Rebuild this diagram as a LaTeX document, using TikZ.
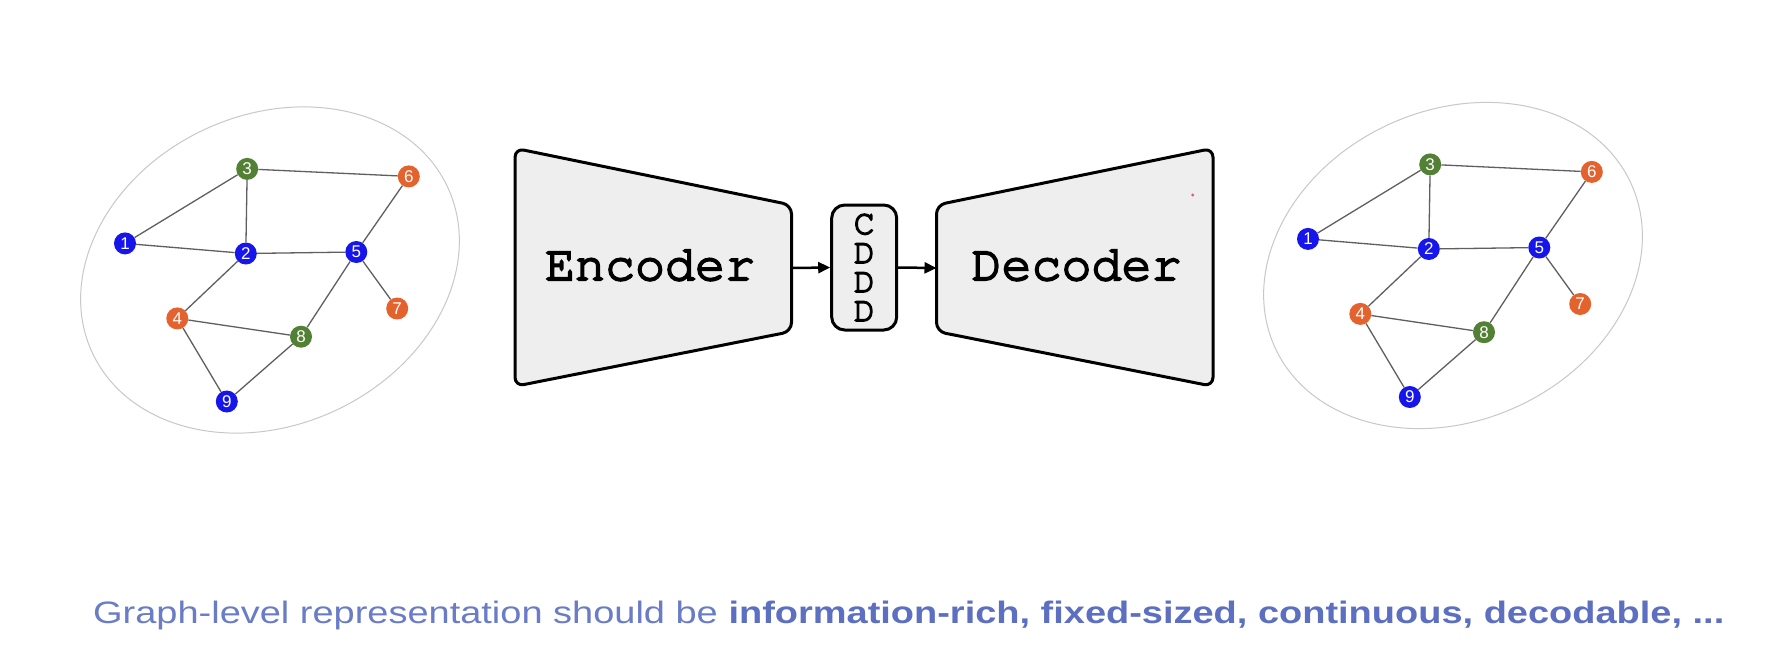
\documentclass[tikz,border=0pt]{standalone}
\usepackage{fontspec}
\usepackage{graphicx}
\usetikzlibrary{arrows.meta}
\setmainfont{Liberation Sans}
\newfontfamily\monofont[FakeBold=4]{TeX Gyre Cursor}
\newfontfamily\numfont{Liberation Sans}
\definecolor{nblue}{RGB}{22,22,235}
\definecolor{ngreen}{RGB}{82,128,52}
\definecolor{norange}{RGB}{228,98,45}
\definecolor{boxfill}{RGB}{238,238,238}
\definecolor{capreg}{RGB}{106,124,198}
\definecolor{capbold}{RGB}{92,111,192}
\definecolor{edgegray}{RGB}{95,95,95}
\definecolor{ringgray}{RGB}{200,200,200}
\definecolor{dotred}{RGB}{230,90,110}
\tikzset{
  gnode/.style={circle, minimum size=22pt, inner sep=0pt, text=white,
    font=\numfont\fontsize{17}{17}\selectfont},
  bnode/.style={gnode, fill=nblue},
  gnnode/.style={gnode, fill=ngreen},
  onode/.style={gnode, fill=norange},
  edge/.style={draw=edgegray, line width=1.3pt},
  ring/.style={draw=ringgray, line width=1pt},
  trap/.style={draw=black, line width=3pt, fill=boxfill, rounded corners=9pt, line join=round},
  blbl/.style={font=\monofont\fontsize{50}{50}\selectfont, inner sep=0pt, anchor=base},
  cdddbox/.style={draw=black, line width=3pt, fill=boxfill, rounded corners=13pt,
    minimum width=65pt, minimum height=125pt, inner sep=0pt, align=center,
    font=\monofont\fontsize{35}{29}\selectfont},
  arr/.style={line width=2.5pt, -{Triangle[length=12pt,width=11pt]}},
}
\newcommand\mygraph[1]{%
  \draw[ring, rotate around={25:(270,270)}] (270,270) ellipse [x radius=196pt, y radius=155pt];
  \node[bnode]  (#1n1) at (125,243.4) {1};
  \node[bnode]  (#1n2) at (245.8,253.5) {2};
  \node[gnnode] (#1n3) at (247.2,168.9) {3};
  \node[onode]  (#1n4) at (177.3,318.4) {4};
  \node[bnode]  (#1n5) at (356.3,252) {5};
  \node[onode]  (#1n6) at (408.8,176.4) {6};
  \node[onode]  (#1n7) at (397.2,308.5) {7};
  \node[gnnode] (#1n8) at (301,336.7) {8};
  \node[bnode]  (#1n9) at (226.8,401.5) {9};
  \draw[edge] (#1n1) -- (#1n3);
  \draw[edge] (#1n1) -- (#1n2);
  \draw[edge] (#1n3) -- (#1n2);
  \draw[edge] (#1n3) -- (#1n6);
  \draw[edge] (#1n2) -- (#1n5);
  \draw[edge] (#1n6) -- (#1n5);
  \draw[edge] (#1n5) -- (#1n7);
  \draw[edge] (#1n5) -- (#1n8);
  \draw[edge] (#1n2) -- (#1n4);
  \draw[edge] (#1n4) -- (#1n8);
  \draw[edge] (#1n4) -- (#1n9);
  \draw[edge] (#1n9) -- (#1n8);
}
\begin{document}
\begin{tikzpicture}[x=1pt, y=-1pt]
  \useasboundingbox (0,0) rectangle (1768,670);
  \fill[white] (0,0) rectangle (1768,670);

  % left graph
  \mygraph{L}
  % right graph
  \begin{scope}[shift={(1183,-4.5)}]
    \mygraph{R}
  \end{scope}

  % encoder
  \draw[trap] (515,148.3) -- (791.5,205) -- (791.5,331.5) -- (515,386.3) -- cycle;
  \node[blbl] (enc) at (650,280) {Encoder};
  % decoder
  \draw[trap] (936.5,205) -- (1213,148.3) -- (1213,386.3) -- (936.5,331.5) -- cycle;
  \node[blbl] (dec) at (1076.5,280) {Decoder};
  \fill[dotred] (1192.7,195) circle (1.6pt);

  % bottleneck
  \node[cdddbox] (cddd) at (864.2,267.5) {C\\D\\D\\D};
  \coordinate (encR) at (791.5,268);
  \coordinate (decL) at (936.5,268);
  \draw[arr] (encR) -- (cddd.west);
  \draw[arr] (cddd.east) -- (decL);

  % caption
  \node[anchor=base west, inner sep=0pt, text=capreg] (cap) at (93,623)
    {\resizebox{1631pt}{\height}{\fontsize{31}{31}\selectfont Graph-level representation should be \textbf{\color{capbold}information-rich, fixed-sized, continuous, decodable, ...}}};
\end{tikzpicture}
\end{document}
